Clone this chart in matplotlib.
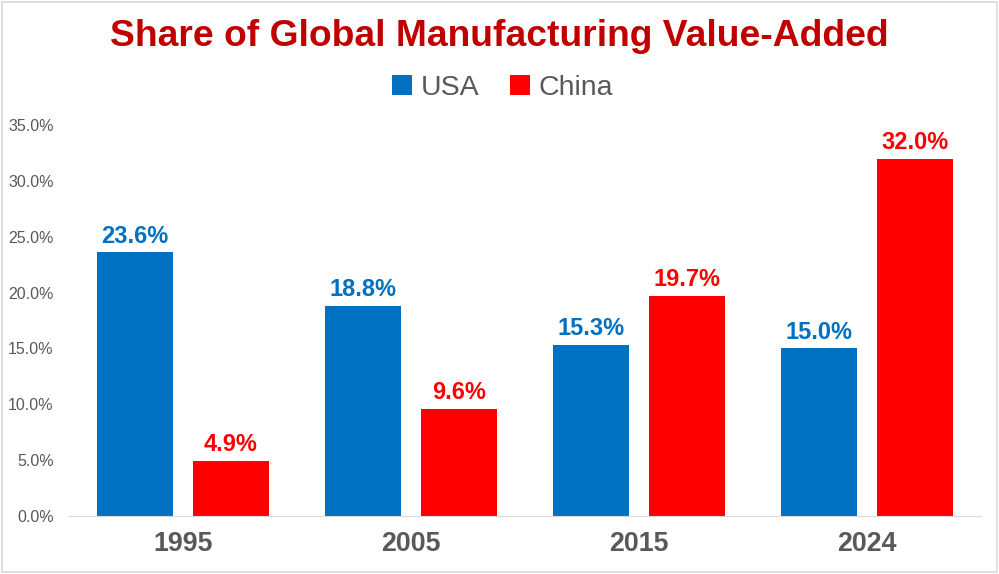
import matplotlib.pyplot as plt
import numpy as np
from matplotlib.patches import Rectangle

plt.rcParams['font.family'] = ['Liberation Sans', 'DejaVu Sans']

years = ['1995', '2005', '2015', '2024']
usa = [23.6, 18.8, 15.3, 15.0]
china = [4.9, 9.6, 19.7, 32.0]

blue = '#0070C0'
red = '#FF0000'
grey = '#595959'

fig = plt.figure(figsize=(9.99, 5.74), dpi=100)
ax = fig.add_axes([0.069, 0.101, 0.913, 0.681])

x = np.arange(len(years))
w = 0.333
off = 0.2105
b1 = ax.bar(x - off, usa, w, color=blue, label='USA')
b2 = ax.bar(x + off, china, w, color=red, label='China')

for bars, vals, c in [(b1, usa, blue), (b2, china, red)]:
    for b, v in zip(bars, vals):
        ax.annotate(f'{v:.1f}%', (b.get_x() + b.get_width() / 2, v),
                    xytext=(0, 3.5), textcoords='offset points',
                    ha='center', va='bottom', fontsize=17, fontweight='bold', color=c)

ax.set_xlim(-0.5, 3.5)
ax.set_ylim(0, 35)
ax.set_yticks(np.arange(0, 36, 5))
ax.set_yticklabels([f'{t:.1f}%' for t in np.arange(0, 36, 5)])
ax.set_xticks(x)
ax.set_xticklabels(years)
ax.tick_params(axis='y', length=0, labelsize=11.5, labelcolor=grey, pad=11)
ax.tick_params(axis='x', length=0, labelsize=19.3, labelcolor=grey, pad=11)
for lab in ax.get_xticklabels():
    lab.set_fontweight('bold')
for s in ['top', 'right', 'left']:
    ax.spines[s].set_visible(False)
ax.spines['bottom'].set_color('#D9D9D9')

fig.text(0.5, 0.937, 'Share of Global Manufacturing Value-Added', ha='center', va='center',
         fontsize=26.8, fontweight='bold', color='#C00000')
fig.legend(handles=[b1, b2], loc='center', bbox_to_anchor=(0.503, 0.846), ncol=2, frameon=False,
           fontsize=20.5, labelcolor=grey, handlelength=0.7, handleheight=0.7,
           handletextpad=0.3, columnspacing=1.1)

fig.patches.append(Rectangle((0.002, 0.003), 0.996, 0.994, transform=fig.transFigure,
                             fill=False, edgecolor='#D9D9D9', linewidth=1.2))

fig.savefig('out.png', dpi=100)
